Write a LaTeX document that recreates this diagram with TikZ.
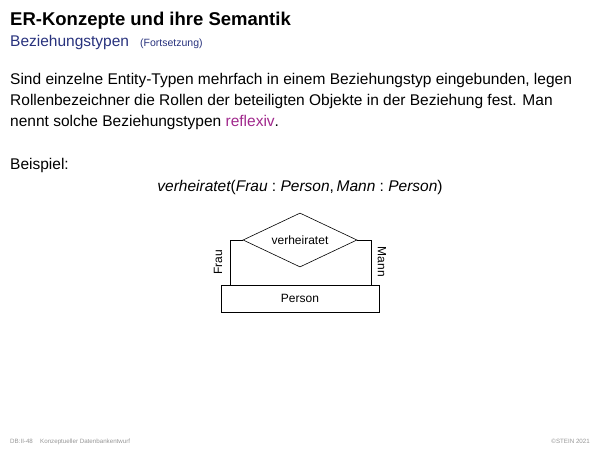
\documentclass[tikz,border=0pt]{standalone}
\usepackage{fontspec}
\setmainfont{Liberation Sans}
\usetikzlibrary{shapes.geometric}
\definecolor{subblue}{RGB}{40,50,125}
\definecolor{refl}{RGB}{160,40,140}
\definecolor{foot}{RGB}{150,150,150}
\begin{document}
\begin{tikzpicture}[x=1pt,y=-1pt,
  body/.style={anchor=base west,inner sep=0,font=\fontsize{15.5}{18}\selectfont},
  er/.style={draw,line width=0.6pt,font=\fontsize{12}{14}\selectfont,inner sep=0},
  lab/.style={inner sep=0,font=\fontsize{12}{14}\selectfont},
  conn/.style={draw,line width=0.6pt},
  footer/.style={inner sep=0,text=foot,font=\fontsize{6.2}{7}\selectfont}]
\useasboundingbox (0,0) rectangle (600,450);
% title
\node[anchor=base west,inner sep=0,font=\fontsize{18.5}{20}\bfseries\selectfont] (title) at (10,25) {ER-Konzepte und ihre Semantik};
\node[anchor=base west,inner sep=0,text=subblue,font=\fontsize{15.5}{17}\selectfont] (sub) at (10,46) {Beziehungstypen};
\node[anchor=base west,inner sep=0,text=subblue,font=\fontsize{10.5}{12}\selectfont] (fort) at (140,46) {(Fortsetzung)};
% body
\node[body] (l1) at (10,84) {Sind einzelne Entity-Typen mehrfach in einem Beziehungstyp eingebunden, legen};
\node[body] (l2) at (10,105) {Rollenbezeichner die Rollen der beteiligten Objekte in der Beziehung fest. Man};
\node[body] (l3) at (10,126) {nennt solche Beziehungstypen \textcolor{refl}{reflexiv}.};
\node[body] (bsp) at (10,169) {Beispiel:};
\node[anchor=base,inner sep=0,font=\fontsize{15.5}{18}\selectfont] (form) at (300,191)
  {\itshape verheiratet\upshape(\itshape Frau\upshape~:~\itshape Person\upshape,\,\itshape Mann\upshape~:~\itshape Person\upshape)};
% diagram
\node[er,shape=diamond,aspect=2,minimum width=114pt,minimum height=54pt] (rel) at (300,240) {verheiratet};
\node[er,rectangle,minimum width=158pt,minimum height=27pt] (person) at (300,298.5) {Person};
\coordinate (fl) at (230,285);
\coordinate (ml) at (371,285);
\draw[conn] (rel.west) -| (fl);
\draw[conn] (rel.east) -| (ml);
\node[lab,rotate=90] (frau) at (218,262) {Frau};
\node[lab,rotate=-90] (mann) at (382,262) {Mann};
% footer
\node[footer,anchor=base west] (f1) at (10,443) {DB:II-48};
\node[footer,anchor=base west] (f2) at (40,443) {Konzeptueller Datenbankentwurf};
\node[footer,anchor=base east] (f3) at (590,443) {©STEIN 2021};
\end{tikzpicture}
\end{document}
